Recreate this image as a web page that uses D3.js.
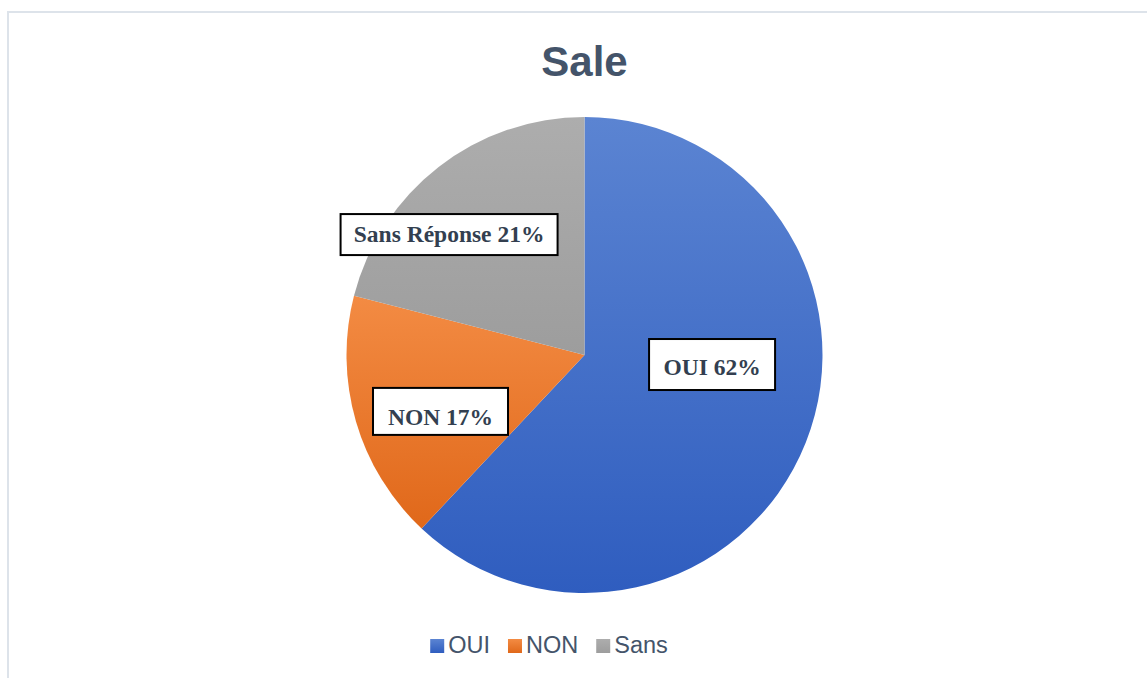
<!DOCTYPE html>
<html>
<head>
<meta charset="utf-8">
<script src="https://cdn.jsdelivr.net/npm/d3@7.9.0/dist/d3.min.js"></script>
<style>
  html, body { margin: 0; padding: 0; background: #fff; }
  svg { display: block; }
</style>
</head>
<body>
<svg id="chart" width="1147" height="678"></svg>
<script>
// chart data
const categories = ['OUI', 'NON', 'Sans'];
const values = [62, 17, 21];
const labelTexts = ['OUI 62%', 'NON 17%', 'Sans Réponse 21%'];

// colours (top -> bottom of each slice)
const colorTop = ['#5b84d2', '#f38b43', '#adadad'];
const colorBottom = ['#2f5dbf', '#e0681a', '#9d9d9d'];

const width = 1147, height = 678;
const cx = 584.5, cy = 355, radius = 238;
const legendCenterX = 549;

// label box layout, offsets relative to pie centre in units of radius
const labelLayout = [
  { dx: 0.536, dy: 0.040, w: 126, h: 51, base: 10 },
  { dx: -0.605, dy: 0.237, w: 135, h: 47, base: 14 },
  { dx: -0.569, dy: -0.506, w: 217, h: 41, base: 7.5 }
];

const svg = d3.select('#chart');

// light frame (only top and left edges visible)
svg.append('rect')
  .attr('x', 8).attr('y', 12)
  .attr('width', width).attr('height', height)
  .attr('fill', 'none')
  .attr('stroke', '#dde3ea')
  .attr('stroke-width', 2);

// gradients
const defs = svg.append('defs');
categories.forEach((c, i) => {
  const g = defs.append('linearGradient')
    .attr('id', `grad${i}`)
    .attr('x1', 0).attr('y1', 0).attr('x2', 0).attr('y2', 1);
  g.append('stop').attr('offset', '0%').attr('stop-color', colorTop[i]);
  g.append('stop').attr('offset', '100%').attr('stop-color', colorBottom[i]);
});

// title
svg.append('text')
  .attr('x', cx).attr('y', 76)
  .attr('text-anchor', 'middle')
  .attr('font-family', '"Liberation Sans", Arial, sans-serif')
  .attr('font-weight', 'bold')
  .attr('font-size', 42)
  .attr('fill', '#44546a')
  .text('Sale');

// pie
const pie = d3.pie().sort(null).value(d => d);
const arcData = pie(values);
const arcGen = d3.arc().innerRadius(0).outerRadius(radius);

const g = svg.append('g').attr('transform', `translate(${cx},${cy})`);
g.selectAll('path.slice')
  .data(arcData)
  .join('path')
  .attr('class', 'slice')
  .attr('d', arcGen)
  .attr('fill', (d, i) => `url(#grad${i})`);

// data labels
const labels = g.selectAll('g.label')
  .data(arcData)
  .join('g')
  .attr('class', 'label')
  .attr('transform', (d, i) => `translate(${labelLayout[i].dx * radius},${labelLayout[i].dy * radius})`);

labels.append('rect')
  .attr('x', (d, i) => -labelLayout[i].w / 2)
  .attr('y', (d, i) => -labelLayout[i].h / 2)
  .attr('width', (d, i) => labelLayout[i].w)
  .attr('height', (d, i) => labelLayout[i].h)
  .attr('fill', '#fff')
  .attr('stroke', '#000')
  .attr('stroke-width', 2);

labels.append('text')
  .attr('y', (d, i) => labelLayout[i].base)
  .attr('text-anchor', 'middle')
  .attr('font-family', '"Liberation Serif", "Times New Roman", serif')
  .attr('font-weight', 'bold')
  .attr('font-size', 23.5)
  .attr('fill', '#333f50')
  .text((d, i) => labelTexts[i]);

// legend
const legendY = 653;
const legendFont = '"Liberation Sans", Arial, sans-serif';
const legend = svg.append('g');
let x = 0;
categories.forEach((c, i) => {
  const item = legend.append('g');
  item.append('rect')
    .attr('x', 0).attr('y', -14)
    .attr('width', 14).attr('height', 14)
    .attr('fill', `url(#grad${i})`);
  const t = item.append('text')
    .attr('x', 18)
    .attr('font-family', legendFont)
    .attr('font-size', 23.5)
    .attr('fill', '#44546a')
    .text(c);
  const w = 18 + t.node().getComputedTextLength();
  item.attr('transform', `translate(${x},${legendY})`);
  x += w + 18;
});
const totalW = x - 18;
legend.attr('transform', `translate(${legendCenterX - totalW / 2},0)`);
</script>
</body>
</html>
